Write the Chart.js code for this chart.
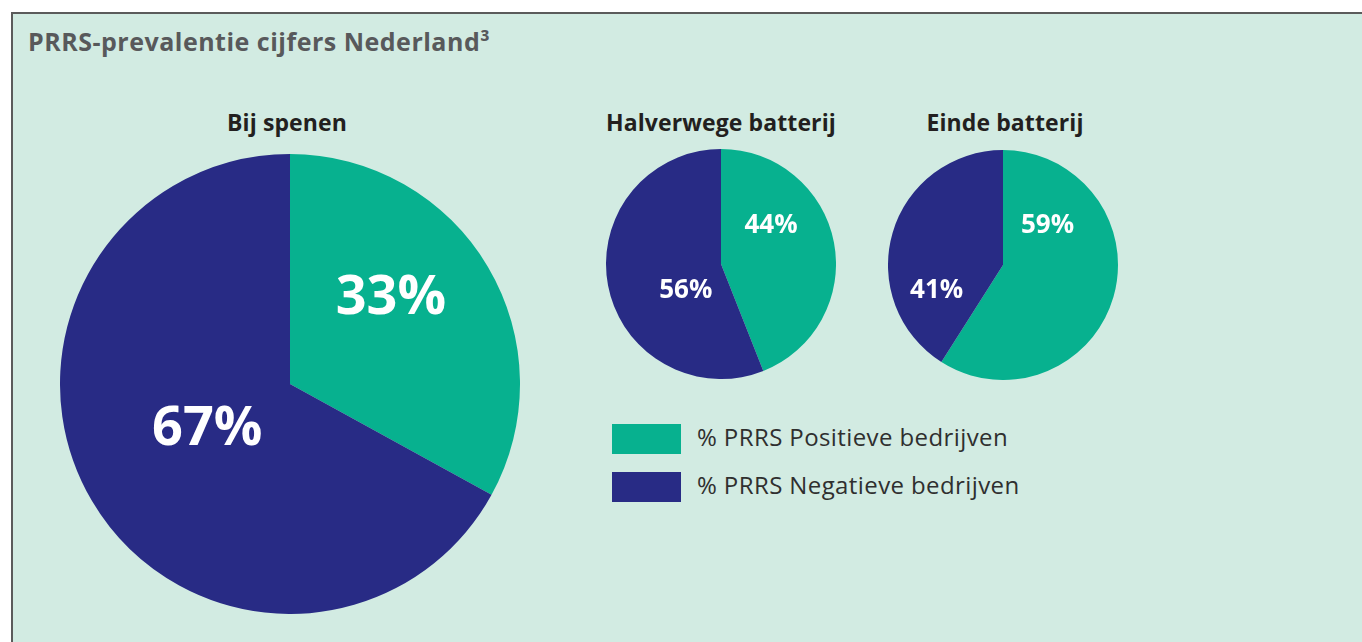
<!DOCTYPE html>
<html>
<head>
<meta charset="utf-8">
<script src="https://cdn.jsdelivr.net/npm/chart.js@4/dist/chart.umd.min.js"></script>
<style>
  html, body { margin: 0; padding: 0; background: #fff; }
  body { width: 1362px; height: 642px; position: relative; overflow: hidden; font-family: "Open Sans", "Noto Sans", sans-serif; }
  .panel {
    position: absolute; left: 11px; top: 12px; right: -4px; bottom: -4px;
    background: #d2ebe2; border-left: 2px solid #5b5b5b; border-top: 2px solid #5b5b5b;
  }
  .main-title { position: absolute; left: 28px; top: 24px; font-size: 25px; font-weight: 700; color: #58595b; letter-spacing: 0.5px; white-space: nowrap; }
  .pie-title { position: absolute; font-size: 23px; font-weight: 700; color: #231f20; text-align: center; width: 300px; letter-spacing: 0.1px; }
  .box { position: absolute; }
  .legend-item { position: absolute; left: 612px; height: 30px; }
  .legend-item span.sw { position: absolute; left: 0; top: 0; width: 69px; height: 30px; }
  .legend-item span.tx { position: absolute; left: 85px; top: -4px; white-space: nowrap; font-size: 24px; letter-spacing: 0.4px; color: #2f2f2f; }
</style>
</head>
<body>
<div class="panel"></div>
<div class="main-title">PRRS-prevalentie cijfers Nederland³</div>

<div class="pie-title" style="left:137px; top:106px;">Bij spenen</div>
<div class="pie-title" style="left:571px; top:106px;">Halverwege batterij</div>
<div class="pie-title" style="left:855px; top:106px;">Einde batterij</div>

<div class="box" style="left:60px; top:154px; width:460px; height:460px;"><canvas id="pieSpenen"></canvas></div>
<div class="box" style="left:606px; top:149px; width:230px; height:230px;"><canvas id="pieHalverwege"></canvas></div>
<div class="box" style="left:888px; top:150px; width:230px; height:230px;"><canvas id="pieEinde"></canvas></div>

<div id="legend"></div>

<script>
const seriesNames = ['% PRRS Positieve bedrijven', '% PRRS Negatieve bedrijven'];
const spenenValues = [33, 67];
const halverwegeValues = [44, 56];
const eindeValues = [59, 41];

const colors = {
    positive: '#07b18f',
    negative: '#282b85'
};

// draws the percentage text inside every slice
const sliceLabels = {
    id: 'sliceLabels',
    afterDatasetsDraw(chart, args, opts) {
        const ctx = chart.ctx;
        const meta = chart.getDatasetMeta(0);
        const values = chart.data.datasets[0].data;
        ctx.save();
        ctx.fillStyle = '#ffffff';
        ctx.textAlign = 'center';
        ctx.textBaseline = 'middle';
        ctx.font = '700 ' + opts.size + 'px "Open Sans", "Noto Sans", sans-serif';
        meta.data.forEach((arc, i) => {
            const spot = opts.spots[i];
            const a = (spot.deg - 90) * Math.PI / 180;
            const r = arc.outerRadius * spot.frac;
            ctx.fillText(values[i] + '%', arc.x + Math.cos(a) * r, arc.y + Math.sin(a) * r + opts.size * 0.1);
        });
        ctx.restore();
    }
};

const renderPie = (id, data, size, spots) => {
    const ctx = document.getElementById(id);
    return new Chart(ctx, {
        type: 'pie',
        data: {
            labels: seriesNames,
            datasets: [{
                data: data,
                backgroundColor: [colors.positive, colors.negative],
                borderWidth: 0
            }]
        },
        options: {
            responsive: true,
            maintainAspectRatio: false,
            animation: false,
            layout: { padding: 0 },
            plugins: {
                legend: { display: false },
                tooltip: { enabled: false },
                sliceLabels: { size: size, spots: spots }
            }
        },
        plugins: [sliceLabels]
    });
};

renderPie('pieSpenen', spenenValues, 54, [{ deg: 48, frac: 0.59 }, { deg: 244, frac: 0.40 }]);
renderPie('pieHalverwege', halverwegeValues, 26, [{ deg: 51, frac: 0.56 }, { deg: 236, frac: 0.37 }]);
renderPie('pieEinde', eindeValues, 26, [{ deg: 47, frac: 0.53 }, { deg: 251, frac: 0.61 }]);

// legend
const legendEl = document.getElementById('legend');
[colors.positive, colors.negative].forEach((c, i) => {
    const item = document.createElement('div');
    item.className = 'legend-item';
    item.style.top = (424 + i * 48) + 'px';
    item.innerHTML = '<span class="sw" style="background:' + c + '"></span><span class="tx">' + seriesNames[i] + '</span>';
    legendEl.appendChild(item);
});
</script>
</body>
</html>
